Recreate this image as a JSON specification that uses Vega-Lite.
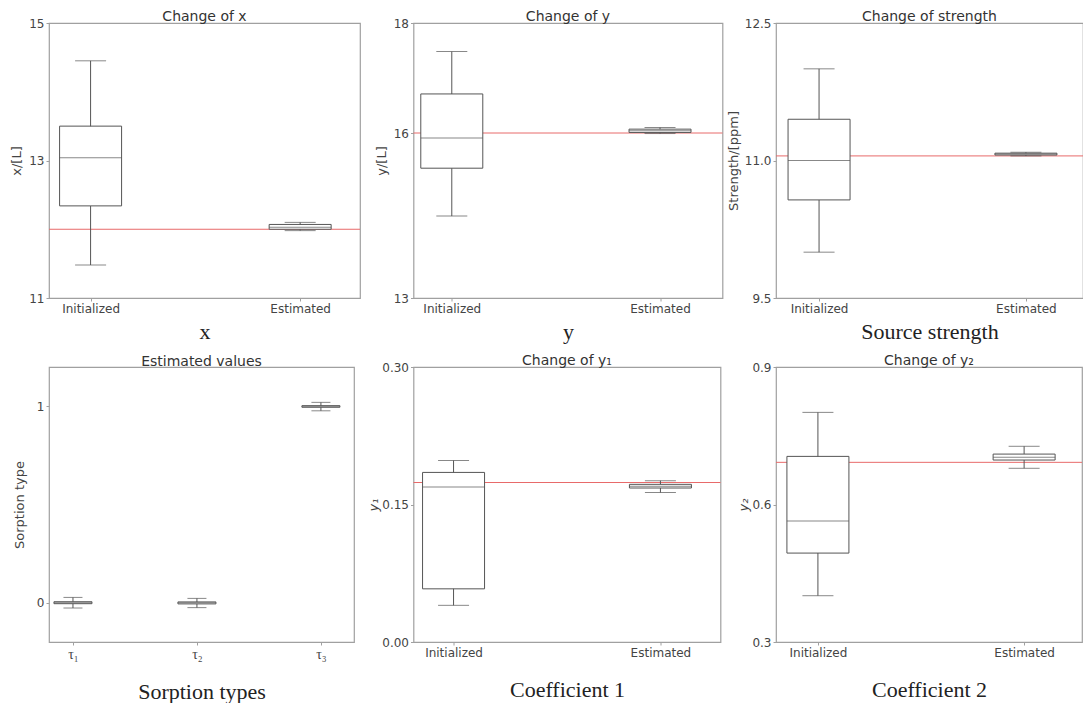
{
  "$schema": "https://vega.github.io/schema/vega-lite/v6.json",
  "padding": {"left": 10, "top": 9, "right": 0, "bottom": 0},
  "background": "white",
  "columns": 3,
  "bounds": "flush",
  "spacing": {"row": 69, "column": 53.5},
  "datasets": {
    "p1": [
      {"cat": "Initialized", "lo": 11.48, "q1": 12.34, "med": 13.04, "q3": 13.5, "hi": 14.45},
      {"cat": "Estimated", "lo": 11.98, "q1": 12.0, "med": 12.03, "q3": 12.07, "hi": 12.1}
    ],
    "p2": [
      {"cat": "Initialized", "lo": 14.49, "q1": 15.36, "med": 15.91, "q3": 16.71, "hi": 17.48},
      {"cat": "Estimated", "lo": 15.99, "q1": 16.01, "med": 16.04, "q3": 16.07, "hi": 16.1}
    ],
    "p3": [
      {"cat": "Initialized", "lo": 10.0, "q1": 10.57, "med": 11.0, "q3": 11.45, "hi": 12.0},
      {"cat": "Estimated", "lo": 11.05, "q1": 11.06, "med": 11.07, "q3": 11.08, "hi": 11.09}
    ],
    "p4": [
      {"cat": "τ₁", "lo": -0.027, "q1": -0.005, "med": 0.0, "q3": 0.005, "hi": 0.027},
      {"cat": "τ₂", "lo": -0.025, "q1": -0.006, "med": 0.0, "q3": 0.004, "hi": 0.022},
      {"cat": "τ₃", "lo": 0.977, "q1": 0.995, "med": 1.0, "q3": 1.003, "hi": 1.02}
    ],
    "p5": [
      {"cat": "Initialized", "lo": 0.04, "q1": 0.058, "med": 0.169, "q3": 0.185, "hi": 0.198},
      {"cat": "Estimated", "lo": 0.163, "q1": 0.168, "med": 0.17, "q3": 0.172, "hi": 0.176}
    ],
    "p6": [
      {"cat": "Initialized", "lo": 0.401, "q1": 0.494, "med": 0.564, "q3": 0.705, "hi": 0.801},
      {"cat": "Estimated", "lo": 0.679, "q1": 0.697, "med": 0.703, "q3": 0.71, "hi": 0.727}
    ]
  },
  "concat": [
    {
      "width": 311, "height": 275,
      "title": {"text": "Change of x", "offset": -7},
      "data": {"name": "p1"},
      "encoding": {
        "x": {"field": "cat", "type": "nominal", "sort": ["Initialized", "Estimated"],
              "scale": {"type": "point", "padding": 0.242, "align": 0.41},
              "axis": {"title": "x", "titlePadding": 7}}
      },
      "layer": [
        {"data": {"values": [{"truth": 12.0}]}, "mark": {"type": "rule", "color": "#e86a6a", "strokeWidth": 1},
         "encoding": {"x": null, "y": {"field": "truth", "type": "quantitative", "title": "x/[L]",
           "scale": {"domain": [11, 15], "nice": false, "zero": false},
           "axis": {"values": [11, 13, 15], "format": "d", "titlePadding": 5}}}},
        {"mark": {"type": "rule", "color": "#555", "strokeWidth": 1},
         "encoding": {"y": {"field": "lo", "type": "quantitative", "title": "x/[L]"}, "y2": {"field": "hi"}}},
        {"mark": {"type": "bar", "fill": "white", "stroke": "#555", "strokeWidth": 1, "size": 62},
         "encoding": {"y": {"field": "q1", "type": "quantitative", "title": "x/[L]"}, "y2": {"field": "q3"}}},
        {"mark": {"type": "tick", "color": "#555", "size": 62, "thickness": 1},
         "encoding": {"y": {"field": "med", "type": "quantitative", "title": "x/[L]"}}},
        {"mark": {"type": "tick", "color": "#555", "size": 31, "thickness": 1},
         "encoding": {"y": {"field": "lo", "type": "quantitative", "title": "x/[L]"}}},
        {"mark": {"type": "tick", "color": "#555", "size": 31, "thickness": 1},
         "encoding": {"y": {"field": "hi", "type": "quantitative", "title": "x/[L]"}}}
      ]
    },
    {
      "width": 309, "height": 275,
      "title": {"text": "Change of y", "offset": -7},
      "data": {"name": "p2"},
      "encoding": {
        "x": {"field": "cat", "type": "nominal", "sort": ["Initialized", "Estimated"],
              "scale": {"type": "point", "padding": 0.242, "align": 0.38},
              "axis": {"title": "y", "titlePadding": 7}}
      },
      "layer": [
        {"data": {"values": [{"truth": 16.0}]}, "mark": {"type": "rule", "color": "#e86a6a", "strokeWidth": 1},
         "encoding": {"x": null, "y": {"field": "truth", "type": "quantitative", "title": "y/[L]",
           "scale": {"domain": [13, 18], "nice": false, "zero": false},
           "axis": {"values": [13, 16, 18], "format": "d", "titlePadding": 5}}}},
        {"mark": {"type": "rule", "color": "#555", "strokeWidth": 1},
         "encoding": {"y": {"field": "lo", "type": "quantitative", "title": "y/[L]"}, "y2": {"field": "hi"}}},
        {"mark": {"type": "bar", "fill": "white", "stroke": "#555", "strokeWidth": 1, "size": 62},
         "encoding": {"y": {"field": "q1", "type": "quantitative", "title": "y/[L]"}, "y2": {"field": "q3"}}},
        {"mark": {"type": "tick", "color": "#555", "size": 62, "thickness": 1},
         "encoding": {"y": {"field": "med", "type": "quantitative", "title": "y/[L]"}}},
        {"mark": {"type": "tick", "color": "#555", "size": 31, "thickness": 1},
         "encoding": {"y": {"field": "lo", "type": "quantitative", "title": "y/[L]"}}},
        {"mark": {"type": "tick", "color": "#555", "size": 31, "thickness": 1},
         "encoding": {"y": {"field": "hi", "type": "quantitative", "title": "y/[L]"}}}
      ]
    },
    {
      "width": 307, "height": 275,
      "title": {"text": "Change of strength", "offset": -7},
      "data": {"name": "p3"},
      "encoding": {
        "x": {"field": "cat", "type": "nominal", "sort": ["Initialized", "Estimated"],
              "scale": {"type": "point", "padding": 0.242, "align": 0.43},
              "axis": {"title": "Source strength", "titlePadding": 7}}
      },
      "layer": [
        {"data": {"values": [{"truth": 11.05}]}, "mark": {"type": "rule", "color": "#e86a6a", "strokeWidth": 1},
         "encoding": {"x": null, "y": {"field": "truth", "type": "quantitative", "title": "Strength/[ppm]",
           "scale": {"domain": [9.5, 12.5], "nice": false, "zero": false},
           "axis": {"values": [9.5, 11, 12.5], "format": ".1f", "titlePadding": 4}}}},
        {"mark": {"type": "rule", "color": "#555", "strokeWidth": 1},
         "encoding": {"y": {"field": "lo", "type": "quantitative", "title": "Strength/[ppm]"}, "y2": {"field": "hi"}}},
        {"mark": {"type": "bar", "fill": "white", "stroke": "#555", "strokeWidth": 1, "size": 62},
         "encoding": {"y": {"field": "q1", "type": "quantitative", "title": "Strength/[ppm]"}, "y2": {"field": "q3"}}},
        {"mark": {"type": "tick", "color": "#555", "size": 62, "thickness": 1},
         "encoding": {"y": {"field": "med", "type": "quantitative", "title": "Strength/[ppm]"}}},
        {"mark": {"type": "tick", "color": "#555", "size": 31, "thickness": 1},
         "encoding": {"y": {"field": "lo", "type": "quantitative", "title": "Strength/[ppm]"}}},
        {"mark": {"type": "tick", "color": "#555", "size": 31, "thickness": 1},
         "encoding": {"y": {"field": "hi", "type": "quantitative", "title": "Strength/[ppm]"}}}
      ]
    },
    {
      "width": 305, "height": 275,
      "title": {"text": "Estimated values", "offset": -2},
      "data": {"name": "p4"},
      "encoding": {
        "x": {"field": "cat", "type": "nominal", "sort": ["τ₁", "τ₂", "τ₃"],
              "scale": {"type": "point", "padding": 0.23, "align": 0.42},
              "axis": {"title": "Sorption types", "titlePadding": 20, "labelFont": "Liberation Serif", "labelFontSize": 14, "labelColor": "#444"}}
      },
      "layer": [
        {"mark": {"type": "rule", "color": "#555", "strokeWidth": 1},
         "encoding": {"y": {"field": "lo", "type": "quantitative", "title": "Sorption type",
           "scale": {"domain": [-0.2, 1.2], "nice": false, "zero": false},
           "axis": {"values": [0, 1], "format": "d", "titlePadding": 10}}, "y2": {"field": "hi"}}},
        {"mark": {"type": "bar", "fill": "white", "stroke": "#555", "strokeWidth": 1, "size": 38},
         "encoding": {"y": {"field": "q1", "type": "quantitative", "title": "Sorption type"}, "y2": {"field": "q3"}}},
        {"mark": {"type": "tick", "color": "#555", "size": 38, "thickness": 1},
         "encoding": {"y": {"field": "med", "type": "quantitative", "title": "Sorption type"}}},
        {"mark": {"type": "tick", "color": "#555", "size": 19, "thickness": 1},
         "encoding": {"y": {"field": "lo", "type": "quantitative", "title": "Sorption type"}}},
        {"mark": {"type": "tick", "color": "#555", "size": 19, "thickness": 1},
         "encoding": {"y": {"field": "hi", "type": "quantitative", "title": "Sorption type"}}}
      ]
    },
    {
      "width": 307, "height": 275,
      "title": {"text": "Change of y₁", "offset": -7},
      "data": {"name": "p5"},
      "encoding": {
        "x": {"field": "cat", "type": "nominal", "sort": ["Initialized", "Estimated"],
              "scale": {"type": "point", "padding": 0.242, "align": 0.4},
              "axis": {"title": "Coefficient 1", "titlePadding": 21}}
      },
      "layer": [
        {"data": {"values": [{"truth": 0.174}]}, "mark": {"type": "rule", "color": "#e86a6a", "strokeWidth": 1},
         "encoding": {"x": null, "y": {"field": "truth", "type": "quantitative", "title": "y₁",
           "scale": {"domain": [0, 0.3], "nice": false, "zero": false},
           "axis": {"values": [0, 0.15, 0.3], "format": ".2f", "titlePadding": 1, "titleFontStyle": "italic"}}}},
        {"mark": {"type": "rule", "color": "#555", "strokeWidth": 1},
         "encoding": {"y": {"field": "lo", "type": "quantitative", "title": "y₁"}, "y2": {"field": "hi"}}},
        {"mark": {"type": "bar", "fill": "white", "stroke": "#555", "strokeWidth": 1, "size": 62},
         "encoding": {"y": {"field": "q1", "type": "quantitative", "title": "y₁"}, "y2": {"field": "q3"}}},
        {"mark": {"type": "tick", "color": "#555", "size": 62, "thickness": 1},
         "encoding": {"y": {"field": "med", "type": "quantitative", "title": "y₁"}}},
        {"mark": {"type": "tick", "color": "#555", "size": 31, "thickness": 1},
         "encoding": {"y": {"field": "lo", "type": "quantitative", "title": "y₁"}}},
        {"mark": {"type": "tick", "color": "#555", "size": 31, "thickness": 1},
         "encoding": {"y": {"field": "hi", "type": "quantitative", "title": "y₁"}}}
      ]
    },
    {
      "width": 306, "height": 275,
      "title": {"text": "Change of y₂", "offset": -7},
      "data": {"name": "p6"},
      "encoding": {
        "x": {"field": "cat", "type": "nominal", "sort": ["Initialized", "Estimated"],
              "scale": {"type": "point", "padding": 0.242, "align": 0.42},
              "axis": {"title": "Coefficient 2", "titlePadding": 21}}
      },
      "layer": [
        {"data": {"values": [{"truth": 0.692}]}, "mark": {"type": "rule", "color": "#e86a6a", "strokeWidth": 1},
         "encoding": {"x": null, "y": {"field": "truth", "type": "quantitative", "title": "y₂",
           "scale": {"domain": [0.3, 0.9], "nice": false, "zero": false},
           "axis": {"values": [0.3, 0.6, 0.9], "format": ".1f", "titlePadding": 1, "titleFontStyle": "italic"}}}},
        {"mark": {"type": "rule", "color": "#555", "strokeWidth": 1},
         "encoding": {"y": {"field": "lo", "type": "quantitative", "title": "y₂"}, "y2": {"field": "hi"}}},
        {"mark": {"type": "bar", "fill": "white", "stroke": "#555", "strokeWidth": 1, "size": 62},
         "encoding": {"y": {"field": "q1", "type": "quantitative", "title": "y₂"}, "y2": {"field": "q3"}}},
        {"mark": {"type": "tick", "color": "#555", "size": 62, "thickness": 1},
         "encoding": {"y": {"field": "med", "type": "quantitative", "title": "y₂"}}},
        {"mark": {"type": "tick", "color": "#555", "size": 31, "thickness": 1},
         "encoding": {"y": {"field": "lo", "type": "quantitative", "title": "y₂"}}},
        {"mark": {"type": "tick", "color": "#555", "size": 31, "thickness": 1},
         "encoding": {"y": {"field": "hi", "type": "quantitative", "title": "y₂"}}}
      ]
    }
  ],
  "config": {
    "font": "DejaVu Sans",
    "view": {"stroke": "#a0a0a0", "strokeWidth": 1.2},
    "axis": {"domain": false, "grid": false, "ticks": true, "tickColor": "#a0a0a0", "tickSize": 3,
             "labelFont": "DejaVu Sans", "labelFontSize": 12, "labelColor": "#444", "labelPadding": 2,
             "titleFont": "DejaVu Sans", "titleFontSize": 13, "titleFontWeight": "normal", "titleColor": "#444"},
    "axisX": {"labelAngle": 0, "titleFont": "Liberation Serif", "titleFontSize": 22, "titleColor": "#222"},
    "title": {"font": "DejaVu Sans", "fontSize": 14, "fontWeight": "normal", "color": "#333"}
  }
}
